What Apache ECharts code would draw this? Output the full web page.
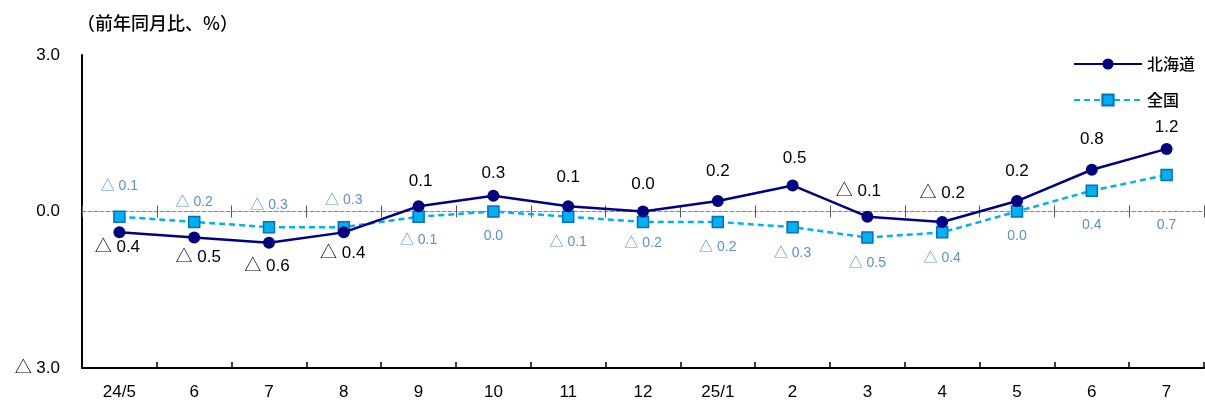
<!DOCTYPE html>
<html style="height: 100%">
<head>
<meta charset="utf-8">
<script src="https://cdn.jsdelivr.net/npm/echarts@6/dist/echarts.min.js"></script>
</head>
<body style="height: 100%; margin: 0">
<div id="container" style="width: 1205px; height: 403px"></div>
<script type="text/javascript">
// 月（24/5 〜 25/7）
var months = ['24/5', '6', '7', '8', '9', '10', '11', '12', '25/1', '2', '3', '4', '5', '6', '7'];
// 前年同月比（%）
var hokkaido = [-0.4, -0.5, -0.6, -0.4, 0.1, 0.3, 0.1, 0.0, 0.2, 0.5, -0.1, -0.2, 0.2, 0.8, 1.2];
var zenkoku = [-0.1, -0.2, -0.3, -0.3, -0.1, 0.0, -0.1, -0.2, -0.2, -0.3, -0.5, -0.4, 0.0, 0.4, 0.7];
// ラベルのずらし量（px）
var hokLabelDy = [15, 20, 24, 21, -25, -23, -29, -27, -30, -27, -25, -29, -30, -30, -22];
var hokLabelDx = [-2, 4, -2, -1, 2, 0, 0, 0, 0, 2, -9, 0, 0, 0, 0];
var zenLabelDy = [-31, -20, -22, -27, 23, 25, 25, 21, 25, 26, 26, 26, 25, 35, 50];

var FONT = 'Liberation Sans, Noto Sans CJK JP, sans-serif';

function fmt(v) {
    return v < 0 ? '\u25B3 ' + Math.abs(v).toFixed(1) : v.toFixed(1);
}

var dom = document.getElementById('container');
var myChart = echarts.init(dom);

var hokData = hokkaido.map(function (v, i) {
    return { value: v, label: { offset: [hokLabelDx[i], hokLabelDy[i]] } };
});
var zenData = zenkoku.map(function (v, i) {
    return { value: v, label: { offset: [0, zenLabelDy[i]] } };
});

var option = {
    animation: false,
    title: {
        text: '（前年同月比、%）',
        left: 72,
        top: 9,
        textStyle: { fontSize: 18, fontWeight: 500, color: '#000', fontFamily: 'Noto Sans CJK JP' }
    },
    legend: {
        orient: 'vertical',
        right: 5,
        top: 51,
        itemWidth: 68,
        itemHeight: 14,
        itemGap: 20,
        textStyle: { fontSize: 16, fontWeight: 500, color: '#000', fontFamily: 'Noto Sans CJK JP' },
        data: ['北海道', '全国']
    },
    grid: { left: 82, right: 1, top: 55, bottom: 35 },
    xAxis: [{
        type: 'category',
        data: months,
        position: 'bottom',
        axisLine: { onZero: false, lineStyle: { color: '#000', width: 2 } },
        axisTick: { show: true, inside: true, length: 6, lineStyle: { color: '#000', width: 1.5 } },
        axisLabel: { fontSize: 17, color: '#000', margin: 16, fontFamily: FONT }
    }, {
        // 0 の破線
        type: 'category',
        data: months,
        position: 'bottom',
        axisLine: { onZero: true, onZeroAxisIndex: 0, lineStyle: { color: '#888', type: 'dashed', width: 1 } },
        axisTick: { show: true, inside: true, length: 6, lineStyle: { color: '#555' } },
        axisLabel: { show: false }
    }, {
        type: 'category',
        data: months,
        position: 'bottom',
        axisLine: { onZero: true, onZeroAxisIndex: 0, show: false },
        axisTick: { show: true, inside: false, length: 6, lineStyle: { color: '#555' } },
        axisLabel: { show: false }
    }],
    yAxis: {
        type: 'value',
        min: -3,
        max: 3,
        interval: 3,
        axisLine: { show: true, lineStyle: { color: '#000', width: 2 } },
        axisTick: { show: false },
        splitLine: { show: false },
        axisLabel: {
            fontSize: 17, color: '#000', margin: 22, fontFamily: FONT,
            formatter: function (v) { return fmt(v); }
        }
    },
    series: [{
        name: '全国',
        type: 'line',
        data: zenData,
        symbol: 'rect',
        symbolSize: 11,
        z: 2,
        lineStyle: { color: '#00B0F0', width: 2.5, type: [6, 4] },
        itemStyle: { color: '#00B0F0', borderColor: '#0070C0', borderWidth: 1.5 },
        label: {
            show: true, position: 'inside', fontSize: 14, color: '#5B8FD6', fontFamily: FONT,
            formatter: function (p) { return fmt(p.value); }
        }
    }, {
        name: '北海道',
        type: 'line',
        data: hokData,
        symbol: 'circle',
        symbolSize: 12,
        z: 3,
        lineStyle: { color: '#000080', width: 2.5 },
        itemStyle: { color: '#000080' },
        label: {
            show: true, position: 'inside', fontSize: 17, color: '#000', fontFamily: FONT,
            formatter: function (p) { return fmt(p.value); }
        }
    }]
};

myChart.setOption(option);
</script>
</body>
</html>
